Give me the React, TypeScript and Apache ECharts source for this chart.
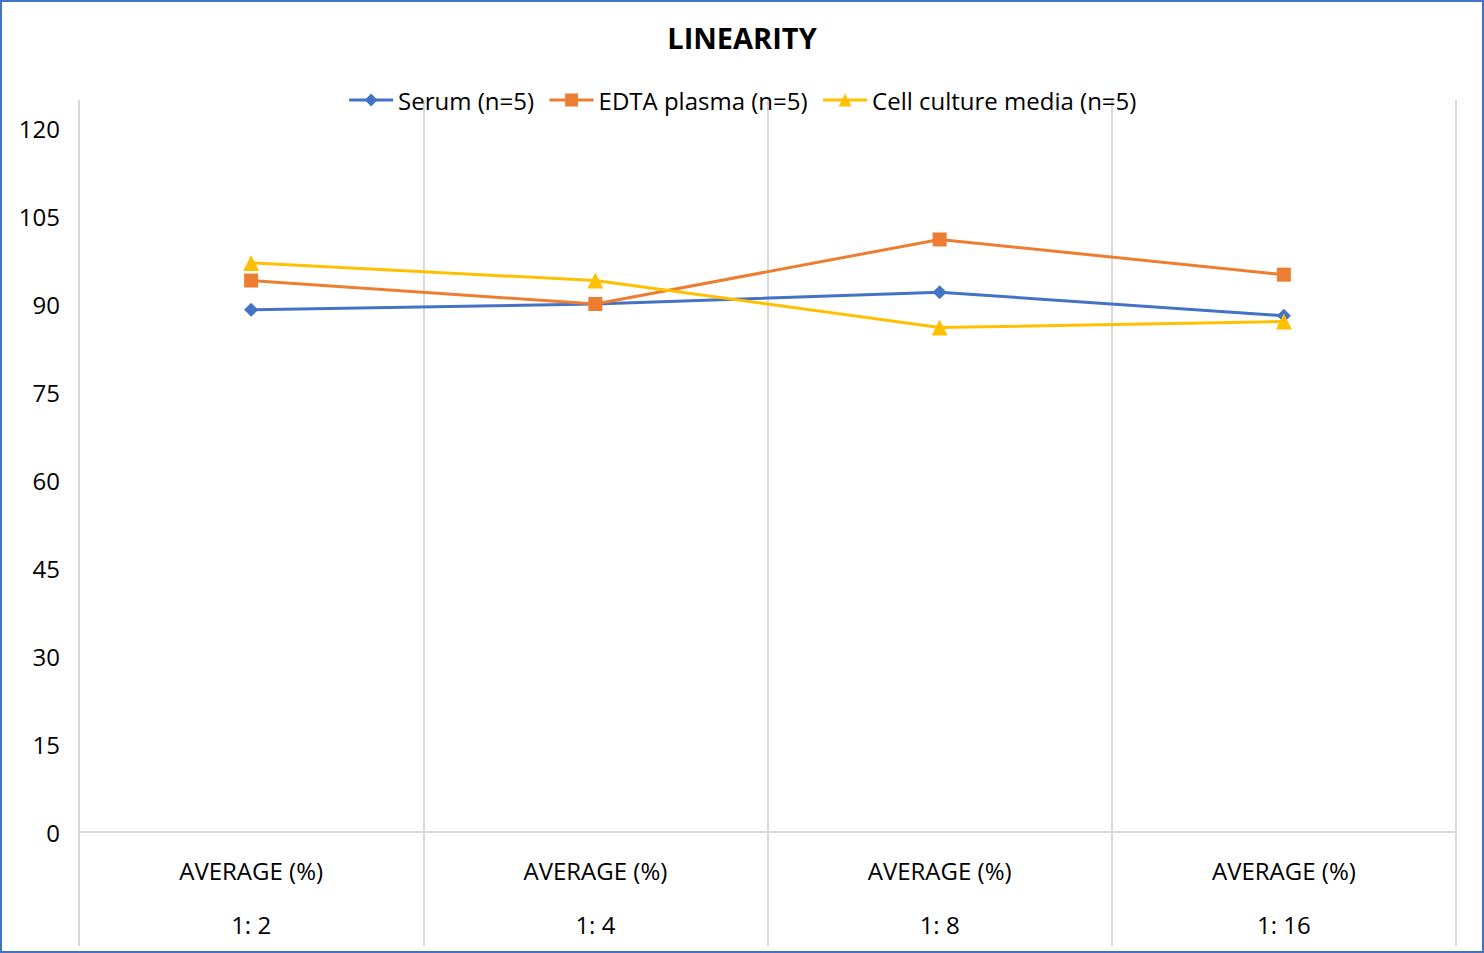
import React, { useEffect, useRef } from "react";
import * as echarts from "echarts";

const categories = ["1: 2", "1: 4", "1: 8", "1: 16"];
const categoryPrefix = "AVERAGE (%)";
const serumValues = [89, 90, 92, 88];
const edtaValues = [94, 90, 101, 95];
const cellValues = [97, 94, 86, 87];
const seriesNames = ["Serum (n=5)", "EDTA plasma (n=5)", "Cell culture media (n=5)"];
const colors = ["#4472C4", "#ED7D31", "#FFC000"];
const symbols = ["diamond", "rect", "triangle"];
const symbolSizes = [14, 14, 16];

const FONT = "'Open Sans', 'Noto Sans', sans-serif";

export default function App() {
  const ref = useRef<HTMLDivElement>(null);
  useEffect(() => {
    if (!ref.current) return;
    const chart = echarts.init(ref.current, undefined, { renderer: "svg" });
    const gridColor = "#d9d9d9";
    const dataSets = [serumValues, edtaValues, cellValues];
    chart.setOption({
      animation: false,
      backgroundColor: "#ffffff",
      title: {
        text: "LINEARITY",
        left: "center",
        top: 18,
        textStyle: { fontFamily: FONT, fontSize: 29, fontWeight: "bold", color: "#000" },
      },
      legend: {
        top: 83,
        left: "center",
        itemWidth: 44,
        itemHeight: 16,
        itemGap: 14,
        lineStyle: { width: 3 },
        textStyle: { fontFamily: FONT, fontSize: 24, color: "#000" },
        data: seriesNames,
      },
      grid: { left: 79, right: 28, top: 128, bottom: 121, containLabel: false },
      xAxis: [
        {
          type: "category",
          data: categories,
          boundaryGap: true,
          axisLine: { show: true, lineStyle: { color: gridColor, width: 2 } },
          axisTick: { show: true, interval: 0, length: 114, lineStyle: { color: gridColor, width: 2 } },
          splitLine: { show: true, interval: 0, lineStyle: { color: gridColor, width: 2 } },
          axisLabel: {
            interval: 0,
            margin: 11,
            formatter: (v: string) => `{a|${categoryPrefix}}\n{b|${v}}`,
            rich: {
              a: { fontFamily: FONT, fontSize: 24, lineHeight: 54, color: "#000" },
              b: { fontFamily: FONT, fontSize: 24, lineHeight: 54, color: "#000" },
            },
          },
        },
        {
          type: "category",
          data: categories,
          position: "top",
          boundaryGap: true,
          axisLine: { show: false },
          axisTick: { show: true, interval: 0, length: 28, lineStyle: { color: gridColor, width: 2 } },
          axisLabel: { show: false },
          splitLine: { show: false },
        },
      ],
      yAxis: {
        type: "value",
        min: 0,
        max: 120,
        interval: 15,
        axisLine: { show: false },
        axisTick: { show: false },
        splitLine: { show: false },
        axisLabel: { fontFamily: FONT, fontSize: 24, color: "#000", margin: 19 },
      },
      series: seriesNames.map((name, i) => ({
        name,
        type: "line",
        xAxisIndex: 0,
        data: dataSets[i],
        symbol: symbols[i],
        symbolSize: symbolSizes[i],
        color: colors[i],
        lineStyle: { color: colors[i], width: 3 },
        itemStyle: { color: colors[i] },
      })),
    });
    return () => chart.dispose();
  }, []);
  return (
    <div style={{ position: "fixed", left: 0, top: 0, width: 1484, height: 953, background: "#fff" }}>
      <div ref={ref} style={{ position: "absolute", left: 0, top: 0, width: 1484, height: 953 }} />
      <div
        style={{
          position: "absolute",
          left: 0,
          top: 0,
          width: 1484,
          height: 953,
          boxSizing: "border-box",
          border: "2px solid #4472C4",
          pointerEvents: "none",
        }}
      />
    </div>
  );
}
